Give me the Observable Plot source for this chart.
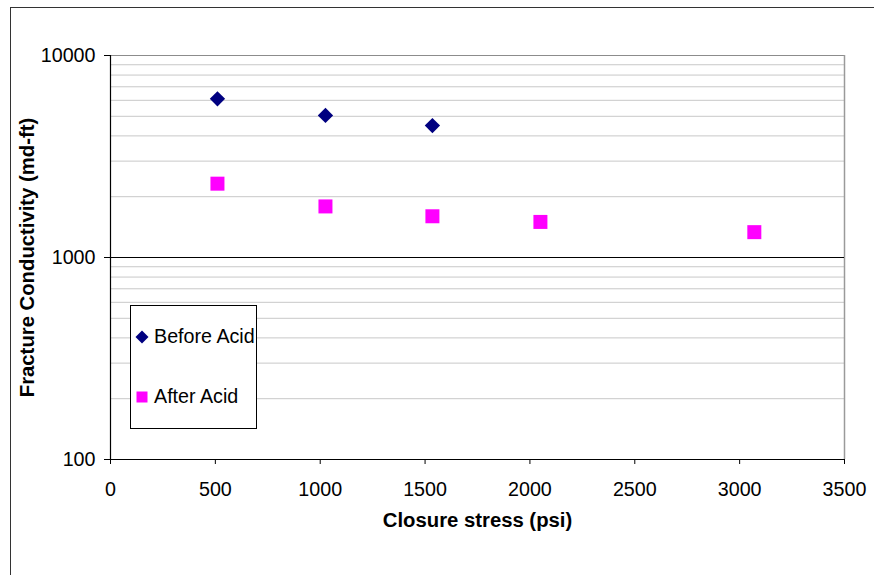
<!DOCTYPE html>
<html>
<head>
<meta charset="utf-8">
<script src="https://cdn.jsdelivr.net/npm/d3@7"></script>
<script src="https://cdn.jsdelivr.net/npm/@observablehq/plot@0.6"></script>
<style>
  html, body { margin: 0; padding: 0; background: #fff; }
  #wrap { position: relative; width: 874px; height: 575px; overflow: hidden; font-family: "Liberation Sans", Arial, sans-serif; }
  #wrap svg { position: absolute; left: 0; top: 0; }
  #edge { position: absolute; left: 10px; top: 7px; width: 900px; height: 600px;
          border-left: 1.5px solid #333; border-top: 1.5px solid #333; pointer-events: none; }
  #legend { position: absolute; left: 130px; top: 305px; width: 127px; height: 124px;
            border: 1px solid #000; background: #fff; box-sizing: border-box; }
  .item { position: absolute; left: 0; font-size: 19.7px; color: #000; white-space: nowrap; }
  .item svg { position: absolute; }
  .item span { position: absolute; left: 23px; }
</style>
</head>
<body>
<div id="wrap"><div id="edge"></div></div>
<script>
// Closure stress (psi) for each measurement
const stressBefore = [510, 1025, 1535];
const stressAfter = [510, 1025, 1535, 2050, 3070];
// Fracture conductivity (md-ft)
const conductivityBefore = [6100, 5050, 4500];
const conductivityAfter = [2320, 1790, 1600, 1500, 1335];

const seriesNames = ["Before Acid", "After Acid"];
const seriesColors = ["#000080", "#ff00ff"];

const xTicks = [0, 500, 1000, 1500, 2000, 2500, 3000, 3500];
const yTicks = [100, 1000, 10000];
const yMinorGrid = [200, 300, 400, 500, 600, 700, 800, 900,
                    2000, 3000, 4000, 5000, 6000, 7000, 8000, 9000];

const before = stressBefore.map((x, i) => ({x, y: conductivityBefore[i]}));
const after = stressAfter.map((x, i) => ({x, y: conductivityAfter[i]}));

const chart = Plot.plot({
  width: 874,
  height: 575,
  marginLeft: 110,
  marginTop: 55,
  marginRight: 30,
  marginBottom: 116,
  style: {fontFamily: "Liberation Sans, Arial, sans-serif", fontSize: "19.7px", color: "#000", background: "transparent", overflow: "visible"},
  x: {domain: [0, 3500]},
  y: {type: "log", domain: [100, 10000]},
  marks: [
    Plot.ruleY(yMinorGrid, {stroke: "#c8c8c8", strokeWidth: 1}),
    Plot.ruleY([10000], {stroke: "#8c8c8c", strokeWidth: 1.2}),
    Plot.ruleX([3500], {stroke: "#9a9a9a", strokeWidth: 1.5}),
    Plot.ruleY([1000], {stroke: "#000", strokeWidth: 1}),
    Plot.axisX({ticks: xTicks, tickSize: 5, tickPadding: 17, tickFormat: d3.format("d"), label: null, fontSize: 19.7, stroke: "#000"}),
    Plot.axisY({ticks: yTicks, tickSize: 6, tickPadding: 9, tickFormat: d3.format("d"), label: null, fontSize: 19.7, stroke: "#000"}),
    Plot.ruleX([0], {stroke: "#000", strokeWidth: 1.2}),
    Plot.ruleY([100], {stroke: "#000", strokeWidth: 1.2}),
    Plot.dot(before, {x: "x", y: "y", symbol: "diamond2", r: 6.9, fill: seriesColors[0], stroke: null}),
    Plot.dot(after, {x: "x", y: "y", symbol: "square", r: 7.9, fill: seriesColors[1], stroke: null}),
    Plot.text(["Closure stress (psi)"], {frameAnchor: "bottom", dy: 67, fontWeight: "bold", fontSize: 20.3}),
    Plot.text(["Fracture Conductivity (md-ft)"], {frameAnchor: "left", textAnchor: "middle", rotate: -90, dx: -83, fontWeight: "bold", fontSize: 20.3})
  ]
});

const wrap = document.getElementById("wrap");
wrap.insertBefore(chart, wrap.firstChild);

// Legend box
const legend = document.createElement("div");
legend.id = "legend";
const itemTops = [19, 79];
const symbols = [
  '<svg width="14" height="14" style="left:4px;top:5px"><path d="M7,0.5L13.5,7L7,13.5L0.5,7Z" fill="' + seriesColors[0] + '"/></svg>',
  '<svg width="12" height="12" style="left:5px;top:6px"><rect x="0.5" y="0.5" width="11" height="11" fill="' + seriesColors[1] + '"/></svg>'
];
seriesNames.forEach((name, i) => {
  const item = document.createElement("div");
  item.className = "item";
  item.style.top = itemTops[i] + "px";
  item.innerHTML = symbols[i] + "<span>" + name + "</span>";
  legend.appendChild(item);
});
wrap.appendChild(legend);
</script>
</body>
</html>
